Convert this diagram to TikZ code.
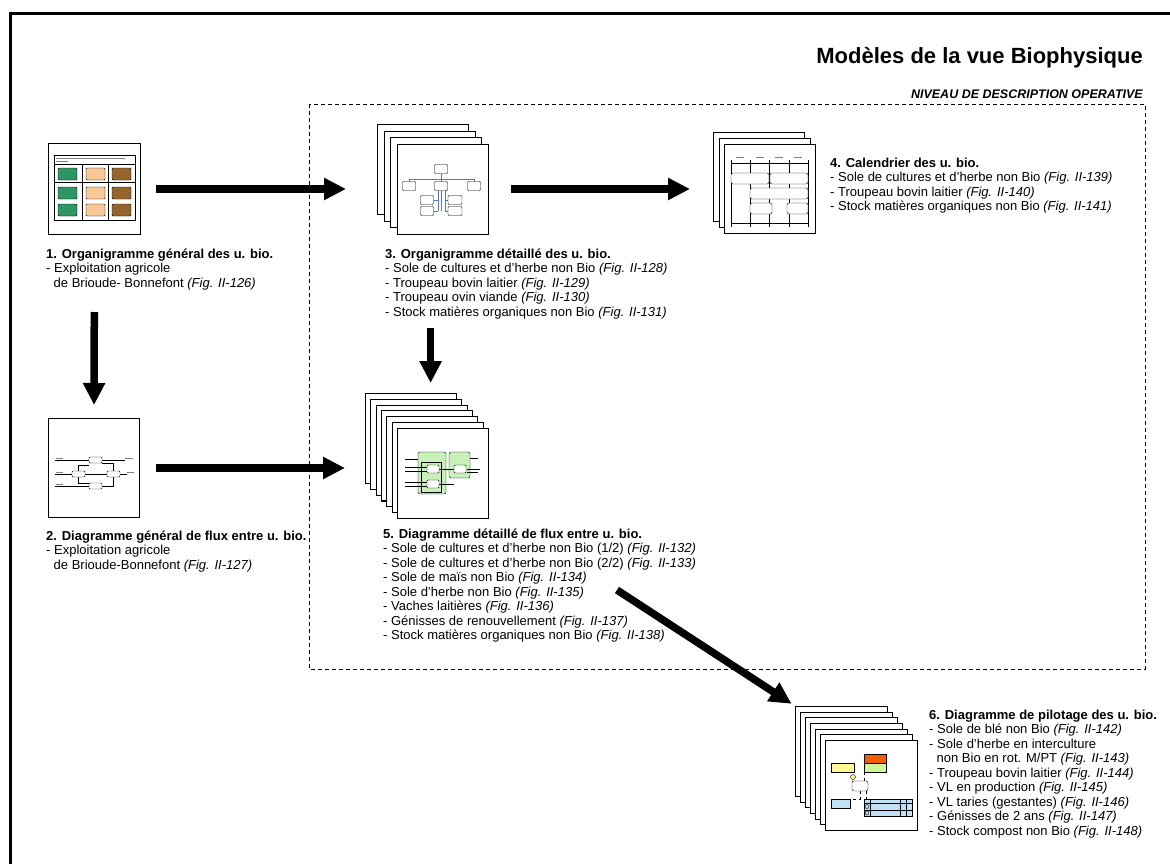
\documentclass[tikz,border=0pt]{standalone}
\usepackage{fontspec}
\setmainfont{Liberation Sans}
\usetikzlibrary{arrows.meta}

\definecolor{vertorg}{RGB}{46,150,100}
\definecolor{peche}{RGB}{250,200,150}
\definecolor{brun}{RGB}{150,100,45}
\definecolor{bleuorg}{RGB}{80,120,200}
\definecolor{vertflux}{RGB}{200,240,185}
\definecolor{jaunepil}{RGB}{255,250,150}
\definecolor{orangepil}{RGB}{240,95,0}
\definecolor{vertpil}{RGB}{205,250,150}
\definecolor{bleupil}{RGB}{195,225,245}

\begin{document}
\begin{tikzpicture}[x=1pt,y=-1pt,
  feuille/.style={draw,fill=white,line width=1pt,minimum width=91pt,minimum height=90pt,inner sep=0pt,anchor=north west},
  fleche/.style={line width=7.5pt,-{Triangle[length=22pt,width=21pt]}},
  legende/.style={anchor=base west,align=left,inner sep=0pt,font=\fontsize{13}{14.5}\selectfont},
  mini/.style={draw,line width=0.4pt,rounded corners=1pt},
  trait/.style={line width=0.4pt},
  texte/.style={gray,line width=0.5pt},
]
\useasboundingbox (0,0) rectangle (1170,863);
% cadre et titres
\draw[line width=3pt] (1175,13.5) -- (10.5,13.5) -- (10.5,870);
\node[anchor=base east,inner sep=0pt,font=\fontsize{22}{26}\selectfont\bfseries] (titre) at (1143,63) {Modèles de la vue Biophysique};
\node[anchor=base east,inner sep=0pt,font=\fontsize{12.5}{15}\selectfont\bfseries\itshape] (niveau) at (1143,98) {NIVEAU DE DESCRIPTION OPERATIVE};
\draw[line width=0.8pt,dash pattern=on 4pt off 3pt] (309,104) rectangle (1145,669);

% 1. organigramme general
\node[feuille,minimum width=92pt,minimum height=91pt] (org1) at (48,143) {};
\draw[trait] (54,155) rectangle (135,220);
\draw[trait] (54,164) -- (135,164) (54,182) -- (135,182) (82,164) -- (82,220) (108,164) -- (108,220);
\draw[texte] (56,158) -- (125,158) (56,161) -- (68,161);
\foreach \c/\x in {vertorg/58,peche/86,brun/112}
  \foreach \y in {168,187,204}
    \filldraw[mini,fill=\c] (\x,\y) rectangle ++(19,12);
% (base = derniere ligne)
\node[legende] (leg1) at (46,287) {\textbf{1. Organigramme général des u. bio.}\\- Exploitation agricole\\\hspace*{7.5pt}de Brioude- Bonnefont \textit{(Fig. II-126)}};

% 2. diagramme general de flux
\node[feuille,minimum width=91pt,minimum height=99pt] (flux2) at (48,418) {};
\draw[trait] (55,460) -- (89,460) (102,460) -- (125,460)
  (55,474) -- (72,474) (84,474) -- (107,474) (119,474) -- (127,474)
  (55,486) -- (89,486) (102,486) -- (113,486) -- (113,477)
  (78,471) -- (78,465) -- (89,465) (78,477) -- (78,483) -- (89,483)
  (102,463) -- (113,463) -- (113,471);
\draw[texte] (56,458) -- (63,458) (56,472) -- (63,472) (56,484) -- (63,484)
  (125,458) -- (133,458) (127,472) -- (134,472);
\foreach \x/\y in {89/457,72/471,107/471,89/483}
  \filldraw[mini,fill=white] (\x,\y) rectangle ++(13,6);
\node[legende] (leg2) at (46,569) {\textbf{2. Diagramme général de flux entre u. bio.}\\- Exploitation agricole\\\hspace*{7.5pt}de Brioude-Bonnefont \textit{(Fig. II-127)}};

% 3. organigramme detaille
\foreach \i in {0,...,3}
  \node[feuille] (org3-\i) at ({377+6.7*\i},{124+6.7*\i}) {};
\draw[bleuorg,line width=0.7pt] (441,169) -- (441,211) (409,179) -- (474,179)
  (409,179) -- (409,186) (474,179) -- (474,186) (438,186) -- (438,211) (445,186) -- (445,211)
  (427,200) -- (438,200) (427,211) -- (438,211) (445,200) -- (455,200) (445,211) -- (455,211);
\foreach \x/\y/\w in {441/169/13,409/186/13,441/186/13,474/186/13,427/200/13,455/200/14,427/211/13,455/211/14}
  \filldraw[mini,fill=white] ({\x-\w/2},{\y-4.5}) rectangle ++(\w,9);
\node[legende] (leg3) at (385,316) {\textbf{3. Organigramme détaillé des u. bio.}\\- Sole de cultures et d’herbe non Bio \textit{(Fig. II-128)}\\- Troupeau bovin laitier \textit{(Fig. II-129)}\\- Troupeau ovin viande \textit{(Fig. II-130)}\\- Stock matières organiques non Bio \textit{(Fig. II-131)}};

% 4. calendrier
\foreach \i in {0,1,2}
  \node[feuille,minimum height=89pt] (cal4-\i) at ({713+5.5*\i},{132+6*\i}) {};
\draw[trait] (731,163) -- (808,163) (731,223) -- (808,223);
\foreach \x in {731,750,769,789,808}
  \draw[trait] (\x,160) -- (\x,227);
\foreach \x in {740,760,779,798}
  \draw[texte] ({\x-4},157) -- ({\x+4},157);
\foreach \x/\y/\w in {731/173/38,770/173/38,750/188/58,750/203/22,787/203/21}
  \filldraw[mini,fill=white,rounded corners=2pt] (\x,\y) rectangle ++(\w,11);
\node[legende] (leg4) at (830,210.5) {\textbf{4. Calendrier des u. bio.}\\- Sole de cultures et d’herbe non Bio \textit{(Fig. II-139)}\\- Troupeau bovin laitier \textit{(Fig. II-140)}\\- Stock matières organiques non Bio \textit{(Fig. II-141)}};

% 5. diagramme detaille de flux
\foreach \i in {0,...,6}
  \node[feuille] (flux5-\i) at ({365+5.33*\i},{393+5.83*\i}) {};
\filldraw[mini,fill=vertflux,rounded corners=2pt] (418,452) rectangle (446,494);
\filldraw[mini,fill=vertflux,rounded corners=2pt] (449,452) rectangle (470,478);
\draw[trait] (421,462) rectangle (441,492);
\draw[trait] (405,459) -- (418,459) (405,467) -- (427,467) (405,471) -- (427,471)
  (405,482) -- (427,482) (405,486) -- (427,486) (439,469) -- (454,469)
  (467,469) -- (480,469) (467,472) -- (478,472) (439,484) -- (454,484) (470,458) -- (478,458);
\foreach \x/\y in {427/465,427/480,454/465}
  \filldraw[mini,fill=white] (\x,\y) rectangle ++(12,8);
\node[legende] (leg5) at (383,639.5) {\textbf{5. Diagramme détaillé de flux entre u. bio.}\\- Sole de cultures et d’herbe non Bio (1/2) \textit{(Fig. II-132)}\\- Sole de cultures et d’herbe non Bio (2/2) \textit{(Fig. II-133)}\\- Sole de maïs non Bio \textit{(Fig. II-134)}\\- Sole d’herbe non Bio \textit{(Fig. II-135)}\\- Vaches laitières \textit{(Fig. II-136)}\\- Génisses de renouvellement \textit{(Fig. II-137)}\\- Stock matières organiques non Bio \textit{(Fig. II-138)}};

% 6. diagramme de pilotage
\foreach \i in {0,...,6}
  \node[feuille,minimum width=92pt] (pil6-\i) at ({795+5*\i},{706+5.67*\i}) {};
\draw[trait,dashed] (860,791) -- (860,799) -- (850,799) (864,781) -- (864,772) (866,791) -- (866,799);
\filldraw[mini,fill=orangepil,rounded corners=0pt] (864,754) rectangle (886,763);
\filldraw[mini,fill=vertpil,rounded corners=0pt] (864,763) rectangle (886,772);
\filldraw[mini,fill=jaunepil,rounded corners=0pt] (831,763) rectangle (854,772);
\filldraw[mini,fill=jaunepil] (853,777) circle (2.5);
\filldraw[mini,fill=white,rounded corners=2pt] (852,781) rectangle (868,791);
\filldraw[mini,fill=bleupil,rounded corners=0pt] (831,799) rectangle (850,808);
\filldraw[mini,fill=bleupil,rounded corners=0pt] (864,799) rectangle (912,816);
\draw[trait] (864,803) -- (912,803) (864,810) -- (912,810) (870,799) -- (870,816) (900,799) -- (900,816) (906,799) -- (906,816);
\draw[trait] (867,806.5) circle (2) (867,813) circle (2);
\node[legende] (leg6) at (929,835) {\textbf{6. Diagramme de pilotage des u. bio.}\\- Sole de blé non Bio \textit{(Fig. II-142)}\\- Sole d’herbe en interculture\\\hspace*{7.5pt}non Bio en rot. M/PT \textit{(Fig. II-143)}\\- Troupeau bovin laitier \textit{(Fig. II-144)}\\- VL en production \textit{(Fig. II-145)}\\- VL taries (gestantes) \textit{(Fig. II-146)}\\- Génisses de 2 ans \textit{(Fig. II-147)}\\- Stock compost non Bio \textit{(Fig. II-148)}};

% fleches
\draw[fleche,shorten <=15pt,shorten >=31pt] (org1.east) -- (org1.east -| org3-0.west);
\draw[fleche,shorten <=22pt,shorten >=23pt] (org3-3.east |- org1.east) -- (cal4-0.west |- org1.east);
\draw[fleche,shorten <=77pt,shorten >=13pt] (org1.south) -- (flux2.north);
\draw[fleche,shorten <=16pt,shorten >=20pt] (flux2.east) -- (flux2.east -| flux5-0.west);
\draw[fleche,shorten <=93pt,shorten >=10pt] ([xshift=-12.5pt]org3-3.south) -- ([xshift=-12.5pt]org3-3.south |- flux5-0.north);
\coordinate (d5) at (617,590);
\draw[fleche,shorten >=4pt] (d5) -- (pil6-0.north west);
\end{tikzpicture}
\end{document}
